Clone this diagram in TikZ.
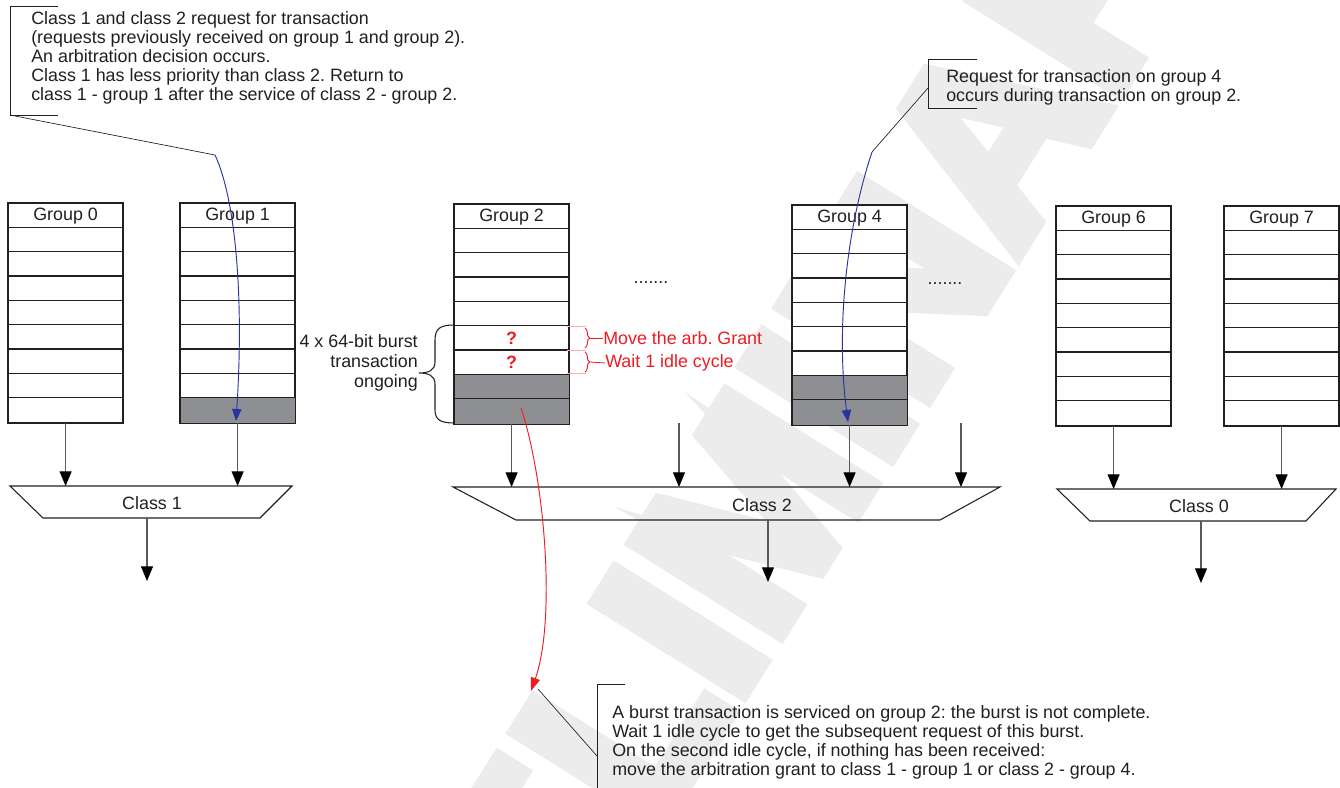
\documentclass[tikz,border=0pt]{standalone}
\usepackage{fontspec}
\setmainfont{Liberation Sans}
\newfontfamily\wmfont[BoldFeatures={FakeBold=6}]{Liberation Sans}
\usetikzlibrary{arrows.meta,calc,decorations.pathreplacing}
\frenchspacing
\definecolor{cellgray}{RGB}{142,143,146}
\definecolor{arbblue}{RGB}{40,52,160}
\definecolor{arbred}{RGB}{237,28,36}
\definecolor{wmgray}{RGB}{236,236,236}
\definecolor{ink}{RGB}{35,31,32}
\newcommand\grouprows[2]{%
  \foreach \i in {1,...,8}
    \draw[ink,line width=0.8pt] ($(#1.north west)+(0,\i*24.333)$) -- ($(#1.north east)+(0,\i*24.333)$);
  \draw[ink,line width=0.9pt] (#1.north west) rectangle (#1.south east);
  \node[txt] (#1h) at ($(#1.north)+(0,13.5)$) {#2};
}
\begin{document}
\frenchspacing
\begin{tikzpicture}[x=0.75pt,y=-0.75pt,
  font=\fontsize{13.4}{14.3}\selectfont,
  txt/.style={text=ink, inner sep=0pt},
  grp/.style={draw=ink, fill=white, line width=0.9pt, minimum width=85.5pt,
              minimum height=164.25pt, inner sep=0pt, anchor=north west},
  cls/.style={draw=ink, line width=0.8pt},
  feed/.style={draw=black!65, line width=0.8pt, -{Triangle[width=9pt,length=11pt,color=black]}},
  lead/.style={draw=ink, line width=0.5pt},
  bluearr/.style={draw=arbblue, line width=0.7pt, -{Triangle[width=7pt,length=9pt]}},
  redarr/.style={draw=arbred, line width=0.7pt, -{Triangle[width=7pt,length=10pt]}},
  redtxt/.style={text=arbred, inner sep=0pt, anchor=west}
]
\useasboundingbox (0,0) rectangle (1340,788);
\fill[white] (0,0) rectangle (1340,788);

% watermark
\node[rotate=58, text=wmgray, inner sep=0pt,
      font=\fontsize{188}{188}\wmfont\bfseries] (wm) at (762,500) {PRELIMINARY};

% groups
\node[grp] (g0) at (8,203) {};
\node[grp] (g1) at (180,203) {};
\node[grp] (g2) at (454,204) {};
\node[grp] (g4) at (792,205) {};
\node[grp] (g6) at (1056,206) {};
\node[grp] (g7) at (1224,206) {};

\fill[cellgray] ($(g1.north west)+(0,8*24.333)$) rectangle (g1.south east);
\fill[cellgray] ($(g2.north west)+(0,7*24.333)$) rectangle (g2.south east);
\fill[cellgray] ($(g4.north west)+(0,7*24.333)$) rectangle (g4.south east);

\grouprows{g0}{Group 0}
\grouprows{g1}{Group 1}
\grouprows{g2}{Group 2}
\grouprows{g4}{Group 4}
\grouprows{g6}{Group 6}
\grouprows{g7}{Group 7}

\node[txt] (dots1) at (651,283) {.......};
\node[txt] (dots2) at (945,284) {.......};

% question marks
\node[text=arbred, inner sep=0pt, font=\fontsize{13.4}{14}\selectfont\bfseries] (q1) at ($(g2.north)+(0,5.5*24.333)$) {?};
\node[text=arbred, inner sep=0pt, font=\fontsize{13.4}{14}\selectfont\bfseries] (q2) at ($(g2.north)+(0,6.5*24.333)$) {?};

% red braces
\draw[arbred!35, line width=0.5pt] (567,326) -- (586,326) (567,350) -- (586,350) (567,373) -- (586,373);
\draw[arbred, line width=0.7pt, decorate, decoration={brace,amplitude=3.5pt}] (585,328) -- (585,348);
\draw[arbred, line width=0.7pt, decorate, decoration={brace,amplitude=3.5pt}] (585,352) -- (585,372);
\node[redtxt] (mv) at (603,338) {Move the arb. Grant};
\node[redtxt] (wt) at (605,363) {Wait 1 idle cycle};
\draw[arbred, line width=0.6pt] (590,338) -- (mv.west);
\draw[arbred, line width=0.6pt] (590,362) -- (wt.west);

% black brace and burst label
\draw[ink, line width=0.8pt] (454,325) .. controls (441,325) and (435,328) .. (435,340)
  -- (435,362) .. controls (435,370) and (429,373) .. (419,373)
  .. controls (429,373) and (435,376) .. (435,384)
  -- (435,410) .. controls (435,420) and (441,423) .. (454,423);
\node[txt, align=right, anchor=east, font=\fontsize{13.4}{15}\selectfont] (burst) at (418,363)
  {4 x 64-bit burst\\transaction\\ongoing};

% classes
\draw[cls] (10,486) -- (292,486) -- (260,518) -- (43,518) -- cycle;
\draw[cls] (453,487) -- (1000,487) -- (940,520) -- (516,520) -- cycle;
\draw[cls] (1057,489) -- (1336,489) -- (1306,521) -- (1090,521) -- cycle;
\node[txt] (c1) at (152,503) {Class 1};
\node[txt] (c2) at (762,505) {Class 2};
\node[txt] (c0) at (1199,506) {Class 0};
\coordinate (c1t) at (0,486);
\coordinate (c2t) at (0,487);
\coordinate (c0t) at (0,489);
\coordinate (c1o) at (147,581);
\coordinate (c2o) at (768,582);
\coordinate (c0o) at (1201,583);
\coordinate (f3) at (679,423);
\coordinate (f5) at (961,423);

\draw[feed] (g0.south) -- (g0.south |- c1t);
\draw[feed] (g1.south) -- (g1.south |- c1t);
\draw[feed] (g2.south) -- (g2.south |- c2t);
\draw[feed] (f3) -- (f3 |- c2t);
\draw[feed] (g4.south) -- (g4.south |- c2t);
\draw[feed] (f5) -- (f5 |- c2t);
\draw[feed] (g6.south) -- (g6.south |- c0t);
\draw[feed] (g7.south) -- (g7.south |- c0t);
\draw[feed] (c1o |- 0,518) -- (c1o);
\draw[feed] (c2o |- 0,520) -- (c2o);
\draw[feed] (c0o |- 0,521) -- (c0o);

% top-left callout
\node[txt, align=left, anchor=west] (note1) at (31,58)
  {Class 1 and class 2 request for transaction\\
   (requests previously received on group 1 and group 2).\\
   An arbitration decision occurs.\\
   Class 1 has less priority than class 2. Return to\\
   class 1 - group 1 after the service of class 2 - group 2.};
\draw[lead] (58,6) -- (10,6) -- (10,115) -- (58,115);
\coordinate (k1) at (215,155);
\draw[lead] (10,115) -- (k1);
\coordinate (t1) at (236,421);
\draw[bluearr] (k1) .. controls (236,200) and (244,300) .. (t1);

% top-right callout
\node[txt, align=left, anchor=west] (note2) at (946,87)
  {Request for transaction on group 4\\occurs during transaction on group 2.};
\draw[lead] (977,59) -- (928,59) -- (928,108) -- (977,108);
\coordinate (k2) at (872,152);
\draw[lead] (928,88) -- (k2);
\coordinate (t2) at (848,422);
\draw[bluearr] (k2) .. controls (846,230) and (836,330) .. (t2);

% bottom callout
\node[txt, align=left, anchor=west] (note3) at (612,742)
  {A burst transaction is serviced on group 2: the burst is not complete.\\
   Wait 1 idle cycle to get the subsequent request of this burst.\\
   On the second idle cycle, if nothing has been received:\\
   move the arbitration grant to class 1 - group 1 or class 2 - group 4.};
\draw[lead] (625,684) -- (597,684) -- (597,790);
\coordinate (k3) at (538,689);
\draw[lead] (597,756) -- (k3);
\coordinate (s3) at (521,408);
\coordinate (t3) at (531,691);
\draw[redarr] (s3) .. controls (545,480) and (556,620) .. (t3);
\end{tikzpicture}
\end{document}
